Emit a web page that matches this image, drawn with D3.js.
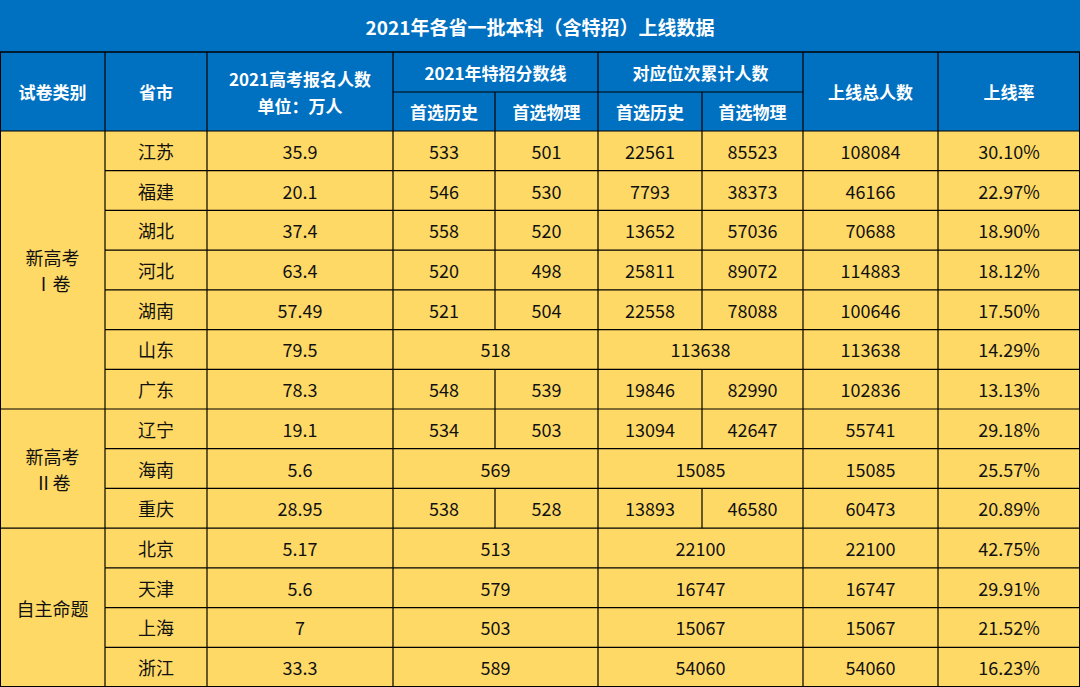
<!DOCTYPE html>
<html><head><meta charset="utf-8">
<script src="https://cdn.jsdelivr.net/npm/d3@7"></script>
<style>body{margin:0;background:#fff}svg{display:block}</style>
</head><body><div id="chart"></div>
<script>
const title = "2021年各省一批本科（含特招）上线数据";
const groups = [["新高考", "Ⅰ卷"], ["新高考", "Ⅱ卷"], ["自主命题"]];
const groupSizes = [7, 3, 4];
const provinces = ["江苏","福建","湖北","河北","湖南","山东","广东","辽宁","海南","重庆","北京","天津","上海","浙江"];
const applicants = ["35.9","20.1","37.4","63.4","57.49","79.5","78.3","19.1","5.6","28.95","5.17","5.6","7","33.3"];
const lineHist = [533,546,558,520,521,518,548,534,569,538,513,579,503,589];
const linePhys = [501,530,520,498,504,null,539,503,null,528,null,null,null,null];
const rankHist = [22561,7793,13652,25811,22558,113638,19846,13094,15085,13893,22100,16747,15067,54060];
const rankPhys = [85523,38373,57036,89072,78088,null,82990,42647,null,46580,null,null,null,null];
const totals = [108084,46166,70688,114883,100646,113638,102836,55741,15085,60473,22100,16747,15067,54060];
const rates = ["30.10%","22.97%","18.90%","18.12%","17.50%","14.29%","13.13%","29.18%","25.57%","20.89%","42.75%","29.91%","21.52%","16.23%"];

const W = 1080, H = 687, blue = "#0070C0", yellow = "#FFD966";
const colEdges = [0,105,207,393,495,598,702,803,938,1080];
const titleH = 52, headTop = 52, headMid = 92, headBot = 131;
const font = "'Noto Sans CJK SC','Noto Sans',sans-serif";

const svg = d3.select("#chart").append("svg").attr("width", W).attr("height", H);
const y = d3.scaleBand().domain(d3.range(provinces.length)).range([headBot, H]);

svg.append("rect").attr("width", W).attr("height", headBot).attr("fill", blue);
svg.append("rect").attr("y", headBot).attr("width", W).attr("height", H - headBot).attr("fill", yellow);

function txt(x, yy, s, opt = {}) {
  svg.append("text").attr("x", x).attr("y", yy).attr("text-anchor", "middle")
    .attr("dominant-baseline", "central").attr("font-family", font)
    .attr("font-size", opt.size || 18).attr("font-weight", opt.bold ? 700 : 400)
    .attr("fill", opt.fill || "#111").text(s);
}
function line(x1, y1, x2, y2) {
  svg.append("line").attr("x1", x1).attr("y1", y1).attr("x2", x2).attr("y2", y2)
    .attr("stroke", "#000").attr("stroke-width", 1.2);
}
const cx = i => (colEdges[i] + colEdges[i + 1]) / 2;
const spanX = (a, b) => (colEdges[a] + colEdges[b]) / 2;

// title
txt(W / 2, titleH / 2, title, { size: 19, bold: true, fill: "#fff" });
line(0, headTop, W, headTop);

// header
const wh = { size: 17, bold: true, fill: "#fff" };
const hm = (headTop + headBot) / 2;
txt(cx(0), hm, "试卷类别", wh);
txt(cx(1), hm, "省市", wh);
txt(cx(2), hm - 13, "2021高考报名人数", wh);
txt(cx(2), hm + 14, "单位：万人", wh);
txt(spanX(3, 5), (headTop + headMid) / 2, "2021年特招分数线", wh);
txt(spanX(5, 7), (headTop + headMid) / 2, "对应位次累计人数", wh);
["首选历史", "首选物理", "首选历史", "首选物理"].forEach((s, i) => txt(cx(3 + i), (headMid + headBot) / 2, s, wh));
txt(cx(7), hm, "上线总人数", wh);
txt(cx(8), hm, "上线率", wh);
line(colEdges[3], headMid, colEdges[7], headMid);
colEdges.slice(1, -1).forEach((x, i) => {
  const j = i + 1;
  line(x, (j === 4 || j === 6) ? headMid : headTop, x, headBot);
});
line(0, headBot, W, headBot);

// group column
let start = 0;
groups.forEach((g, gi) => {
  const n = groupSizes[gi];
  const top = y(start), bot = y(start + n - 1) + y.bandwidth();
  const mid = (top + bot) / 2;
  g.forEach((s, k) => txt(cx(0), mid + (k - (g.length - 1) / 2) * 26, s));
  if (start > 0) line(0, top, colEdges[1], top);
  start += n;
});

// rows
provinces.forEach((p, i) => {
  const top = y(i), m = top + y.bandwidth() / 2;
  if (i > 0) line(colEdges[1], top, W, top);
  txt(cx(1), m, p);
  txt(cx(2), m, applicants[i]);
  if (linePhys[i] == null) txt(spanX(3, 5), m, lineHist[i]);
  else { txt(cx(3), m, lineHist[i]); txt(cx(4), m, linePhys[i]); }
  if (rankPhys[i] == null) txt(spanX(5, 7), m, rankHist[i]);
  else { txt(cx(5), m, rankHist[i]); txt(cx(6), m, rankPhys[i]); }
  txt(cx(7), m, totals[i]);
  txt(cx(8), m, rates[i]);
  colEdges.slice(1, -1).forEach((x, k) => {
    const j = k + 1;
    if ((j === 4 && linePhys[i] == null) || (j === 6 && rankPhys[i] == null)) return;
    line(x, top, x, top + y.bandwidth());
  });
});
svg.append("rect").attr("x", 0.5).attr("y", headTop).attr("width", W - 1).attr("height", H - headTop - 0.5)
  .attr("fill", "none").attr("stroke", "#000").attr("stroke-width", 1);
</script></body></html>
